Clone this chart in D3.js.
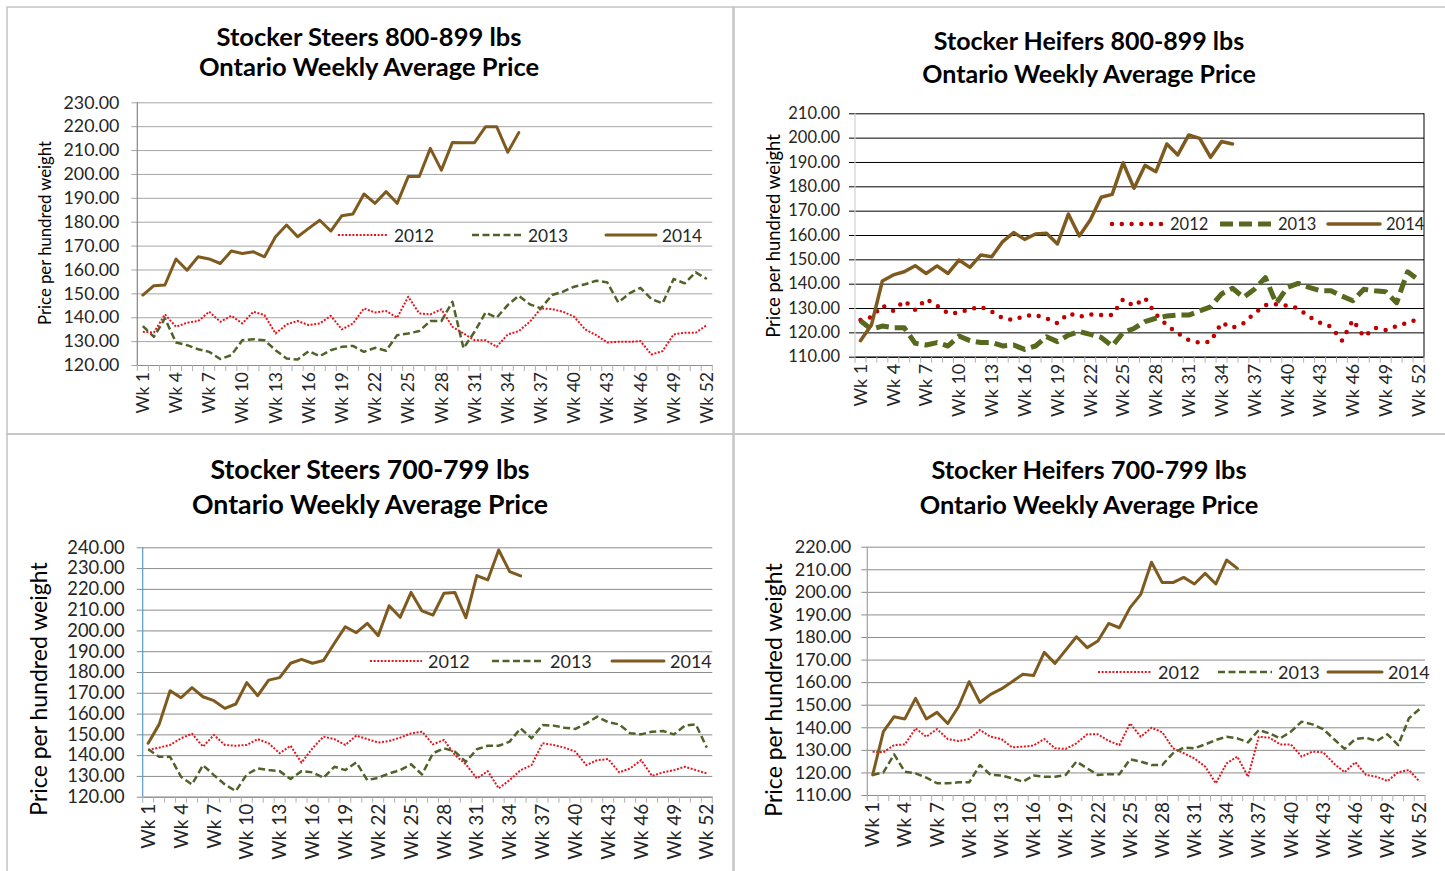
<!DOCTYPE html>
<html>
<head>
<meta charset="utf-8">
<script src="https://cdn.jsdelivr.net/npm/d3@7"></script>
<style>
  body { margin: 0; background: #fff; }
  svg { display: block; }
</style>
</head>
<body>
<div id="chart"></div>
<script>
// Categories
var weeks = d3.range(1, 53).map(function (i) { return "Wk " + i; });
var weekTicks = ["Wk 1", "Wk 4", "Wk 7", "Wk 10", "Wk 13", "Wk 16", "Wk 19", "Wk 22", "Wk 25",
  "Wk 28", "Wk 31", "Wk 34", "Wk 37", "Wk 40", "Wk 43", "Wk 46", "Wk 49", "Wk 52"];
var years = ["2012", "2013", "2014"];

// Stocker Steers 800-899 lbs
var steers800_2012 = [133.9, 133.6, 141.2, 136.0, 137.7, 138.4, 142.3, 138.1, 140.6, 137.4,
  142.3, 140.9, 133.2, 137.0, 138.4, 136.7, 137.4, 140.6, 134.9, 137.4,
  143.7, 142.0, 142.6, 139.8, 148.6, 141.6, 141.2, 143.3, 136.0, 133.2,
  130.4, 130.4, 127.6, 132.8, 134.2, 138.1, 143.7, 143.4, 142.3, 140.2,
  134.9, 132.5, 129.4, 129.7, 129.7, 130.0, 124.4, 125.8, 132.8, 133.5,
  133.5, 136.7];
var steers800_2013 = [136.3, 131.8, 139.5, 129.4, 128.3, 126.6, 125.5, 122.5, 124.1, 130.4,
  130.8, 130.4, 126.2, 122.7, 122.3, 125.8, 123.7, 126.2, 127.6, 128.0,
  125.5, 127.2, 126.0, 132.5, 133.2, 134.2, 138.4, 138.4, 146.5, 127.0,
  133.9, 142.0, 139.8, 145.1, 149.0, 145.4, 143.7, 149.3, 150.7, 152.8,
  153.8, 155.3, 154.6, 146.2, 150.0, 152.3, 147.6, 145.8, 156.0, 154.2,
  158.8, 156.0];
var steers800_2014 = [149.3, 153.2, 153.5, 164.4, 159.7, 165.3, 164.4, 162.5, 167.7, 166.7,
  167.4, 165.3, 173.7, 178.6, 173.7, 177.2, 180.6, 176.1, 182.5, 183.2,
  191.6, 187.7, 192.6, 187.7, 198.9, 198.9, 210.7, 201.6, 213.2, 213.1,
  213.1, 219.8, 219.8, 209.1, 217.3];

// Stocker Heifers 800-899 lbs
var heifers800_2012 = [125.1, 126.2, 131.0, 128.8, 133.0, 129.2, 133.7, 131.0, 127.8, 128.1,
  129.5, 130.5, 128.5, 125.8, 125.1, 126.8, 127.1, 125.8, 123.7, 127.8,
  126.4, 127.4, 127.1, 127.1, 133.6, 130.8, 134.1, 127.4, 123.0, 119.6,
  116.8, 115.8, 116.2, 124.0, 121.9, 123.7, 127.8, 131.2, 131.6, 131.0,
  129.9, 126.4, 124.0, 122.3, 116.6, 125.1, 118.2, 121.9, 121.0, 122.6,
  124.0, 125.5];
var heifers800_2013 = [124.8, 121.2, 122.6, 121.9, 121.9, 115.5, 114.8, 115.8, 114.4, 118.5,
  116.6, 115.8, 115.9, 114.4, 114.8, 113.0, 114.4, 118.2, 116.2, 118.9,
  120.3, 119.2, 117.9, 114.4, 119.9, 121.6, 124.4, 125.8, 126.7, 127.1,
  127.1, 128.8, 130.5, 135.8, 138.1, 134.4, 137.7, 142.5, 131.9, 138.5,
  140.1, 138.5, 137.1, 137.1, 134.9, 133.0, 137.7, 137.1, 136.7, 132.2,
  144.9, 141.5];
var heifers800_2014 = [116.6, 123.0, 141.1, 143.6, 144.9, 147.4, 144.2, 147.3, 144.2, 149.7,
  146.7, 151.8, 151.1, 157.3, 161.0, 158.2, 160.4, 160.7, 156.3, 168.6,
  159.6, 166.2, 175.5, 176.7, 189.7, 179.2, 188.6, 186.0, 197.4, 192.9,
  201.1, 199.7, 191.9, 198.4, 197.4];

// Stocker Steers 700-799 lbs
var steers700_2012 = [142.5, 143.6, 144.9, 148.1, 150.3, 144.1, 149.7, 144.9, 144.5, 144.9,
  147.7, 145.7, 140.9, 144.5, 136.4, 143.3, 148.9, 147.7, 144.9, 149.4,
  147.7, 146.1, 146.8, 148.4, 150.5, 151.3, 145.2, 147.3, 140.1, 135.6,
  128.8, 132.3, 124.0, 128.0, 132.8, 135.2, 145.7, 144.9, 143.6, 141.7,
  135.2, 137.6, 138.1, 131.7, 133.6, 137.6, 130.0, 131.7, 132.8, 134.4,
  132.8, 131.2];
var steers700_2013 = [142.8, 139.2, 139.2, 129.6, 125.9, 135.2, 130.4, 125.9, 122.7, 130.7,
  133.6, 132.8, 132.3, 128.5, 132.3, 131.7, 129.1, 134.4, 132.8, 136.5,
  128.0, 129.1, 131.2, 132.8, 135.6, 130.7, 140.9, 143.3, 141.7, 136.8,
  142.8, 144.5, 144.5, 146.5, 152.9, 148.1, 154.5, 154.2, 153.2, 152.6,
  155.3, 158.5, 155.8, 154.8, 150.5, 150.0, 151.3, 151.6, 150.0, 154.2,
  154.8, 143.6];
var steers700_2014 = [145.7, 154.8, 171.0, 167.6, 172.5, 168.1, 166.2, 162.5, 164.6, 174.9,
  168.6, 176.1, 177.3, 184.2, 186.1, 184.2, 185.5, 193.8, 201.8, 198.9,
  203.4, 197.5, 211.9, 206.3, 218.3, 209.4, 207.4, 217.9, 218.3, 206.1,
  226.4, 224.3, 238.7, 228.3, 226.2];

// Stocker Heifers 700-799 lbs
var heifers700_2012 = [129.2, 128.9, 132.1, 132.4, 139.5, 135.8, 139.2, 134.8, 133.9, 134.8,
  138.8, 135.8, 134.8, 131.1, 131.4, 131.9, 134.8, 130.7, 130.4, 132.9,
  136.9, 136.9, 134.0, 132.1, 141.7, 135.8, 139.8, 137.8, 130.7, 128.5,
  126.2, 122.6, 115.2, 124.0, 127.0, 118.1, 135.8, 135.4, 132.4, 132.4,
  127.0, 129.2, 128.9, 124.0, 120.1, 124.5, 118.9, 118.1, 116.2, 120.1,
  121.1, 115.9];
var heifers700_2013 = [118.9, 120.0, 128.0, 120.3, 119.6, 117.7, 115.2, 115.2, 115.6, 115.6,
  123.3, 118.9, 118.6, 117.4, 115.9, 118.6, 118.1, 118.1, 118.9, 124.8,
  121.8, 118.9, 119.2, 119.2, 125.8, 124.8, 123.3, 123.3, 128.5, 131.0,
  130.7, 132.4, 134.4, 135.8, 135.1, 133.3, 138.8, 137.3, 135.1, 138.1,
  142.5, 141.3, 139.2, 134.8, 130.4, 134.8, 135.4, 133.9, 136.9, 132.1,
  144.0, 148.1];
var heifers700_2014 = [118.9, 138.1, 144.7, 143.7, 152.8, 143.7, 146.6, 141.7, 149.1, 160.2,
  151.0, 154.6, 157.0, 160.2, 163.5, 162.9, 173.2, 168.3, 174.2, 180.1,
  175.3, 178.2, 186.0, 184.1, 193.0, 198.9, 213.1, 204.1, 204.1, 206.4,
  203.5, 208.2, 203.5, 214.1, 210.4];

var yAxisTitle = "Price per hundred weight";
var subTitle = "Ontario Weekly Average Price";

var font = "Lato, 'Liberation Sans', Arial, sans-serif";

// line styles: panels 1, 3, 4 use the thin set, panel 2 the heavy one
var thinStyles = [
  { color: "#e8141c", width: 2, dash: "2,1.6", cap: "butt" },
  { color: "#4f6228", width: 2.5, dash: "7,3.5", cap: "butt" },
  { color: "#7f5a1f", width: 3, dash: null, cap: "round" }
];
var heavyStyles = [
  { color: "#c00000", width: 4.5, dash: "0,9.8", cap: "round" },
  { color: "#56691f", width: 5, dash: "13,6", cap: "butt" },
  { color: "#7f5a1f", width: 3.5, dash: null, cap: "round" }
];

var panels = [
  {
    title: "Stocker Steers 800-899 lbs", series: [steers800_2012, steers800_2013, steers800_2014],
    frame: [7, 7, 733, 434], left: 137.3, right: 712.3, top: 102.3, bottom: 365,
    yMin: 120, yMax: 230, titleX: 369, titleY: [36, 66], titleSize: 25.5,
    yTitleX: 45, yTitleY: 233, yTitleSize: 16.7, tickSize: 17.8, labelGap: 18, xSize: 17.5,
    legendY: 235, legendX: [338, 472, 606], legendLen: 50, legendSize: 17.3,
    grid: "#a6a6a6", axis: "#868686", styles: thinStyles
  },
  {
    title: "Stocker Heifers 800-899 lbs", series: [heifers800_2012, heifers800_2013, heifers800_2014],
    frame: [734, 7, 1450, 434], left: 855, right: 1424, top: 113.3, bottom: 356.7,
    yMin: 110, yMax: 210, titleX: 1089, titleY: [40, 73], titleSize: 25,
    yTitleX: 773, yTitleY: 236, yTitleSize: 18.5, tickSize: 16.5, labelGap: 15, xSize: 18,
    legendY: 224, legendX: [1112, 1220, 1328], legendLen: 52, legendSize: 16.5,
    grid: "#000000", axis: "#d0d0d0", rightBorder: true, styles: heavyStyles
  },
  {
    title: "Stocker Steers 700-799 lbs", series: [steers700_2012, steers700_2013, steers700_2014],
    frame: [7, 434, 733, 880], left: 142.7, right: 712.3, top: 547.3, bottom: 796.7,
    yMin: 120, yMax: 240, titleX: 370, titleY: [469, 504], titleSize: 26.7,
    yTitleX: 38, yTitleY: 689, yTitleSize: 23, tickSize: 18.3, labelGap: 18, xSize: 19,
    legendY: 661, legendX: [370, 492, 612], legendLen: 52, legendSize: 18,
    grid: "#8c8c8c", axis: "#5b9bd5", styles: thinStyles
  },
  {
    title: "Stocker Heifers 700-799 lbs", series: [heifers700_2012, heifers700_2013, heifers700_2014],
    frame: [734, 434, 1450, 880], left: 867.3, right: 1425, top: 546.7, bottom: 795,
    yMin: 110, yMax: 220, titleX: 1089, titleY: [469, 504], titleSize: 25.4,
    yTitleX: 773, yTitleY: 690, yTitleSize: 23, tickSize: 18, labelGap: 16, xSize: 19,
    legendY: 672, legendX: [1098, 1218, 1328], legendLen: 54, legendSize: 18,
    grid: "#8c8c8c", axis: "#a0a0a0", styles: thinStyles
  }
];

var svg = d3.select("#chart").append("svg")
  .attr("width", 1445)
  .attr("height", 871);

svg.append("rect").attr("width", 1445).attr("height", 871).attr("fill", "#fff");

panels.forEach(drawPanel);

function drawPanel(p) {
  var x = d3.scaleBand().domain(weeks).range([p.left, p.right]);
  var y = d3.scaleLinear().domain([p.yMin, p.yMax]).range([p.bottom, p.top]);
  var yTicks = d3.range(p.yMin, p.yMax + 1, 10);

  // panel frame
  svg.append("rect")
    .attr("x", p.frame[0]).attr("y", p.frame[1])
    .attr("width", p.frame[2] - p.frame[0]).attr("height", p.frame[3] - p.frame[1])
    .attr("fill", "none").attr("stroke", "#c4c4c4").attr("stroke-width", 1.5);

  // two-line title
  [p.title, subTitle].forEach(function (t, i) {
    svg.append("text")
      .attr("x", p.titleX).attr("y", p.titleY[i])
      .attr("text-anchor", "middle").attr("dominant-baseline", "central")
      .attr("font-family", font).attr("font-weight", "bold")
      .attr("font-size", p.titleSize).attr("fill", "#000")
      .text(t);
  });

  // gridlines and y labels
  var gy = svg.append("g")
    .attr("transform", "translate(" + p.left + ",0)")
    .call(d3.axisLeft(y).tickValues(yTicks).tickFormat(d3.format(".2f"))
      .tickSize(-(p.right - p.left)).tickPadding(p.labelGap));
  gy.select(".domain").remove();
  gy.selectAll(".tick line").attr("x1", -6).attr("stroke", p.grid).attr("stroke-width", 1);
  gy.selectAll(".tick text")
    .attr("font-family", font).attr("font-size", p.tickSize).attr("fill", "#262626");

  // vertical axis line
  svg.append("line")
    .attr("x1", p.left).attr("x2", p.left)
    .attr("y1", y(p.yMax)).attr("y2", y(p.yMin))
    .attr("stroke", p.axis).attr("stroke-width", 1.2);

  if (p.rightBorder) {
    svg.append("line")
      .attr("x1", p.right).attr("x2", p.right)
      .attr("y1", y(p.yMax)).attr("y2", y(p.yMin))
      .attr("stroke", "#000").attr("stroke-width", 1);
  }

  // category axis with rotated labels
  var gx = svg.append("g")
    .attr("transform", "translate(0," + p.bottom + ")")
    .call(d3.axisBottom(x).tickValues(weekTicks).tickSize(0));
  gx.select(".domain").attr("stroke", p.grid === "#000000" ? "#000" : "#8c8c8c");
  gx.selectAll(".tick text")
    .attr("transform", "rotate(-90)")
    .attr("text-anchor", "end")
    .attr("x", -7).attr("y", 0).attr("dy", "0.35em")
    .attr("font-family", font).attr("font-size", p.xSize).attr("fill", "#262626");

  // tick marks between categories
  svg.append("g").selectAll("line")
    .data(d3.range(weeks.length + 1))
    .join("line")
    .attr("x1", function (i) { return p.left + i * x.step(); })
    .attr("x2", function (i) { return p.left + i * x.step(); })
    .attr("y1", p.bottom).attr("y2", p.bottom + 6)
    .attr("stroke", "#b0b0b0").attr("stroke-width", 1);

  // the three years
  var line = d3.line()
    .x(function (d, i) { return x(weeks[i]) + x.bandwidth() / 2; })
    .y(function (d) { return y(d); });

  p.series.forEach(function (values, k) {
    var st = p.styles[k];
    svg.append("path")
      .datum(values)
      .attr("d", line)
      .attr("fill", "none")
      .attr("stroke", st.color)
      .attr("stroke-width", st.width)
      .attr("stroke-dasharray", st.dash)
      .attr("stroke-linecap", st.cap)
      .attr("stroke-linejoin", "round");
  });

  // legend
  years.forEach(function (yr, k) {
    var st = p.styles[k];
    var lx = p.legendX[k];
    svg.append("line")
      .attr("x1", lx).attr("x2", lx + p.legendLen)
      .attr("y1", p.legendY).attr("y2", p.legendY)
      .attr("stroke", st.color).attr("stroke-width", st.width)
      .attr("stroke-dasharray", st.dash).attr("stroke-linecap", st.cap);
    svg.append("text")
      .attr("x", lx + p.legendLen + 6).attr("y", p.legendY)
      .attr("dominant-baseline", "central")
      .attr("font-family", font).attr("font-size", p.legendSize).attr("fill", "#262626")
      .text(yr);
  });

  // vertical axis title
  svg.append("text")
    .attr("transform", "translate(" + p.yTitleX + "," + p.yTitleY + ") rotate(-90)")
    .attr("text-anchor", "middle").attr("dominant-baseline", "central")
    .attr("font-family", font).attr("font-size", p.yTitleSize).attr("fill", "#000")
    .text(yAxisTitle);
}
</script>
</body>
</html>
